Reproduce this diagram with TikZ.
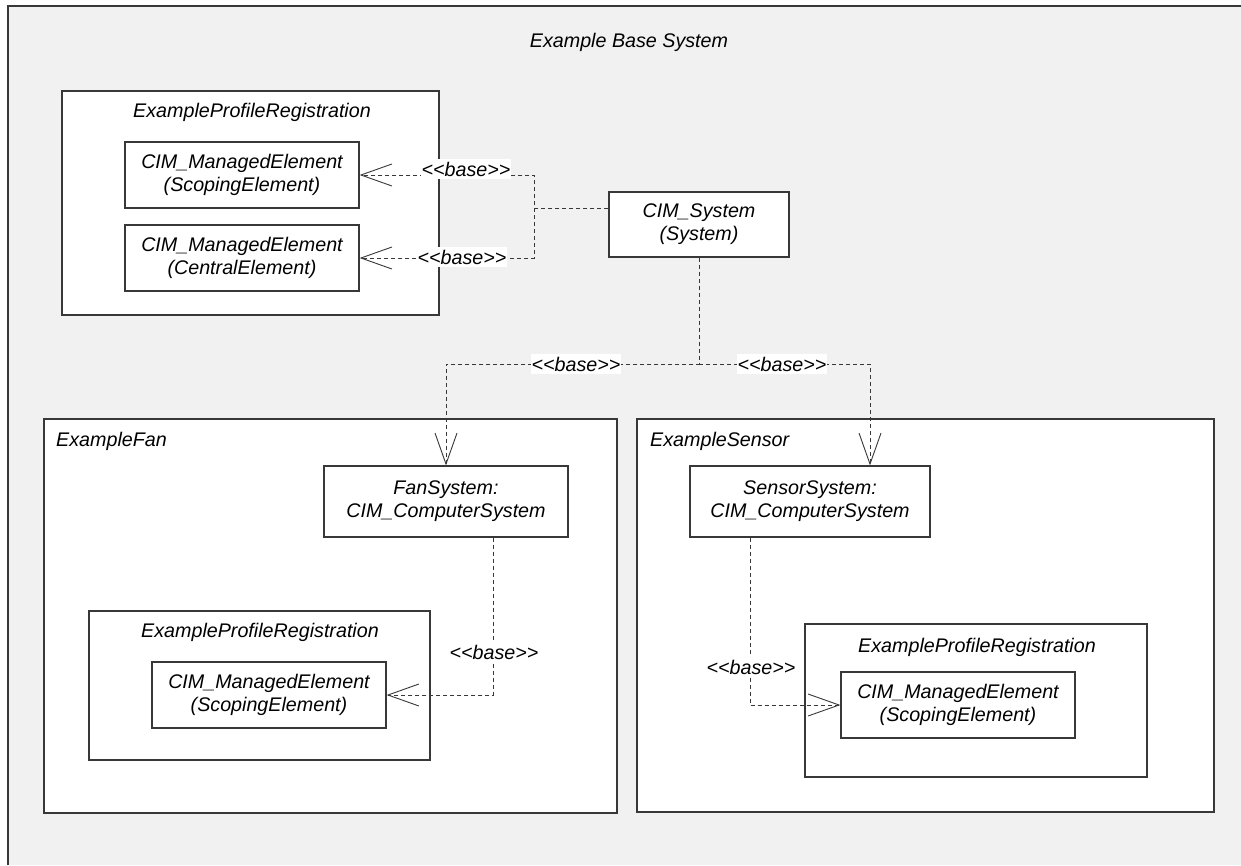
\documentclass[tikz,border=0pt]{standalone}
\usepackage{fontspec}
\setmainfont{Liberation Sans}
\usetikzlibrary{arrows.meta}
\definecolor{bggray}{HTML}{F1F1F1}
\definecolor{linegray}{HTML}{383838}
\newcommand{\stereo}[1]{<\kern0pt<#1>\kern0pt>}
\begin{document}
\begin{tikzpicture}[x=1pt,y=-1pt,
    every node/.style={font=\fontsize{19.7}{23}\selectfont\itshape, inner sep=0pt},
    pkg/.style={draw=linegray, line width=1.2pt, fill=white},
    cls/.style={draw=linegray, line width=1.2pt, fill=white, align=center, minimum width=234pt, minimum height=66pt},
    dep/.style={draw=linegray, line width=0.9pt, dash pattern=on 4pt off 3pt},
    open/.style={-{Straight Barb[length=31pt,width=22pt,line width=0.9pt]}},
    lbl/.style={fill=white, inner xsep=1pt, inner ysep=3pt}]
\useasboundingbox (0,0) rectangle (1241,865);
\fill[bggray] (8,6) rectangle (1241,865);
\draw[linegray, line width=1.2pt] (8,865) -- (8,6) -- (1241,6);
\node (title) at (629,42) {Example Base System};

% top registration
\node[pkg, minimum width=377pt, minimum height=224pt] (epr) at (250.5,203) {};
\node (eprt) at (252,112) {ExampleProfileRegistration};
\node[cls] (scope) at (242,175) {CIM\_ManagedElement\\(ScopingElement)};
\node[cls] (central) at (242,258) {CIM\_ManagedElement\\(CentralElement)};
\node[cls, minimum width=180pt, minimum height=65pt] (sys) at (699,224.5) {CIM\_System\\(System)};

% fan
\node[pkg, minimum width=573pt, minimum height=394pt] (fan) at (330.5,616) {};
\node[anchor=west] (fant) at (56,441) {ExampleFan};
\node[cls, minimum width=244pt, minimum height=71pt] (fansys) at (446,501.5) {FanSystem:\\CIM\_ComputerSystem};
\node[pkg, minimum width=341pt, minimum height=149pt] (fanepr) at (259.5,685.5) {};
\node (faneprt) at (260,632) {ExampleProfileRegistration};
\node[cls] (fanscope) at (269,695) {CIM\_ManagedElement\\(ScopingElement)};

% sensor
\node[pkg, minimum width=577pt, minimum height=393pt] (sensor) at (925.5,615.5) {};
\node[anchor=west] (sensort) at (650,441) {ExampleSensor};
\node[cls, minimum width=240pt, minimum height=71pt] (sensys) at (810,501.5) {SensorSystem:\\CIM\_ComputerSystem};
\node[pkg, minimum width=342pt, minimum height=153pt] (senepr) at (976,700.5) {};
\node (sensepr) at (977,647) {ExampleProfileRegistration};
\node[cls] (senscope) at (958,705) {CIM\_ManagedElement\\(ScopingElement)};

% connectors
\coordinate (j1) at (534,208);
\coordinate (j2) at (699,364);
\coordinate (j3) at (870,364);
\draw[dep, open] (sys.west |- j1) -- (j1) |- (scope.east);
\draw[dep, open] (j1) |- (central.east);
\draw[dep, open] (sys.south) -- (j2) -| (fansys.north);
\draw[dep, open] (j2) -- (j3) -- (j3 |- sensys.north);
\draw[dep, open] ([xshift=47]fansys.south) |- (fanscope.east);
\draw[dep, open] ([xshift=-60]sensys.south) |- (senscope.west);

\node[lbl] (b1) at (466,169) {\stereo{base}};
\node[lbl] (b2) at (462,257) {\stereo{base}};
\node[lbl] (b3) at (576,364) {\stereo{base}};
\node[lbl] (b4) at (782,364) {\stereo{base}};
\node[lbl] (b5) at (494,652) {\stereo{base}};
\node[lbl] (b6) at (751,667) {\stereo{base}};
\end{tikzpicture}
\end{document}
